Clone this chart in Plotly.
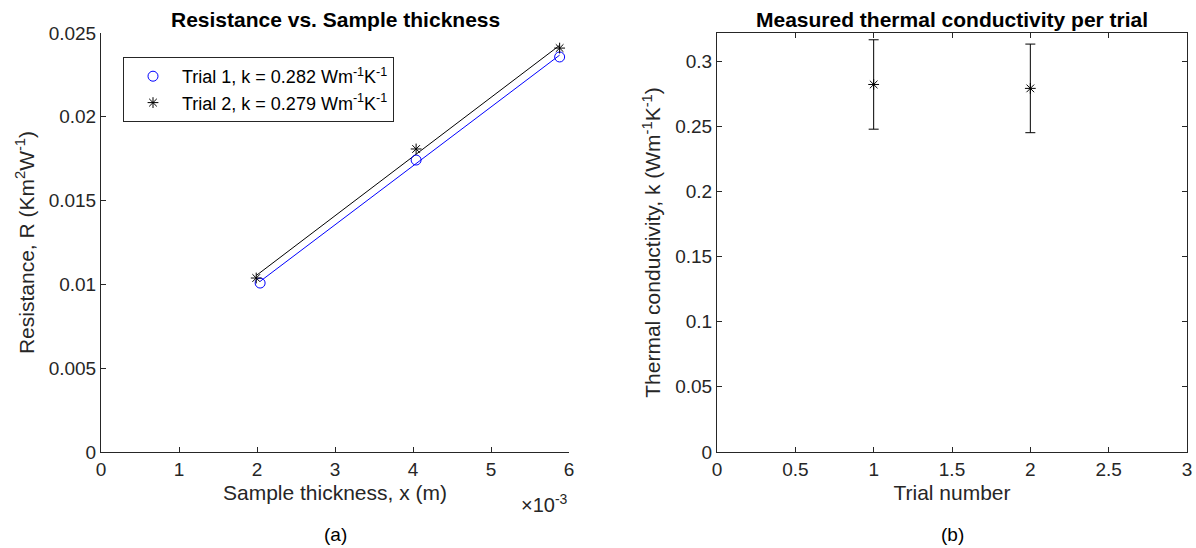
import numpy as np
import plotly.graph_objects as go

# ---------------- data ----------------
thickness_t1 = [2.04e-3, 4.04e-3, 5.88e-3]      # m
resistance_t1 = [0.01008, 0.01742, 0.02357]     # K m^2 W^-1
thickness_t2 = [1.99e-3, 4.04e-3, 5.88e-3]
resistance_t2 = [0.01038, 0.01808, 0.02410]

trials = [1, 2]
k_values = [0.282, 0.279]
k_errors = [0.0343, 0.0340]

legend_t1 = "Trial 1, k = 0.282 Wm<sup>-1</sup>K<sup>-1</sup>"
legend_t2 = "Trial 2, k = 0.279 Wm<sup>-1</sup>K<sup>-1</sup>"

x1_tickvals = [0, 1e-3, 2e-3, 3e-3, 4e-3, 5e-3, 6e-3]
x1_ticktext = ["0", "1", "2", "3", "4", "5", "6"]
y1_tickvals = [0, 0.005, 0.01, 0.015, 0.02, 0.025]
y1_ticktext = ["0", "0.005", "0.01", "0.015", "0.02", "0.025"]
x2_tickvals = [0, 0.5, 1, 1.5, 2, 2.5, 3]
x2_ticktext = ["0", "0.5", "1", "1.5", "2", "2.5", "3"]
y2_tickvals = [0, 0.05, 0.1, 0.15, 0.2, 0.25, 0.3]
y2_ticktext = ["0", "0.05", "0.1", "0.15", "0.2", "0.25", "0.3"]

# linear fits
p1 = np.polyfit(thickness_t1, resistance_t1, 1)
p2 = np.polyfit(thickness_t2, resistance_t2, 1)
fx1 = [min(thickness_t1), max(thickness_t1)]
fx2 = [min(thickness_t2), max(thickness_t2)]

W, H = 1196, 548
FONT = "Liberation Sans"
AX = "#262626"

fig = go.Figure()

fig.add_trace(go.Scatter(x=fx1, y=list(np.polyval(p1, fx1)), mode="lines",
                         line=dict(color="#0000FF", width=1), showlegend=False,
                         hoverinfo="skip", xaxis="x", yaxis="y"))
fig.add_trace(go.Scatter(x=fx2, y=list(np.polyval(p2, fx2)), mode="lines",
                         line=dict(color="black", width=1), showlegend=False,
                         hoverinfo="skip", xaxis="x", yaxis="y"))
fig.add_trace(go.Scatter(x=thickness_t1, y=resistance_t1, mode="markers", name=legend_t1,
                         marker=dict(symbol="circle-open", size=10, color="#0000FF",
                                     line=dict(width=1, color="#0000FF")),
                         xaxis="x", yaxis="y"))
fig.add_trace(go.Scatter(x=thickness_t2, y=resistance_t2, mode="markers", name=legend_t2,
                         marker=dict(symbol="asterisk-open", size=9, color="black",
                                     line=dict(width=1, color="black")),
                         xaxis="x", yaxis="y"))

fig.add_trace(go.Scatter(x=trials, y=k_values, mode="markers", showlegend=False,
                         marker=dict(symbol="asterisk-open", size=9, color="black",
                                     line=dict(width=1, color="black")),
                         error_y=dict(type="data", array=k_errors, visible=True,
                                      color="black", thickness=1, width=5),
                         xaxis="x2", yaxis="y2"))

def px2x(p):
    return p / W

def px2y(p):
    return 1 - p / H

ydom = [px2y(452), px2y(33)]
common_axis = dict(showgrid=False, zeroline=False, showline=True, linecolor=AX,
                   linewidth=1, ticks="inside", ticklen=5, tickcolor=AX,
                   automargin=False,
                   tickfont=dict(family=FONT, size=19, color=AX))
title_font = dict(family=FONT, size=21, color=AX)

fig.update_layout(
    width=W, height=H,
    margin=dict(l=0, r=0, t=0, b=0, pad=0, autoexpand=False),
    paper_bgcolor="white", plot_bgcolor="white",
    font=dict(family=FONT, color=AX),
    xaxis=dict(domain=[px2x(101), px2x(569)], range=[0, 6e-3], anchor="y",
               tickvals=x1_tickvals, ticktext=x1_ticktext,
               title=dict(text="Sample thickness, x (m)", font=title_font, standoff=6),
               **common_axis),
    yaxis=dict(domain=ydom, range=[0, 0.025], anchor="x",
               tickvals=y1_tickvals, ticktext=y1_ticktext,
               title=dict(text="Resistance, R (Km<sup>2</sup>W<sup>-1</sup>)", font=title_font, standoff=8),
               **common_axis),
    xaxis2=dict(domain=[px2x(717), px2x(1187)], range=[0, 3], anchor="y2", mirror="ticks",
                tickvals=x2_tickvals, ticktext=x2_ticktext,
                title=dict(text="Trial number", font=title_font, standoff=6),
                **common_axis),
    yaxis2=dict(domain=ydom, range=[0, 0.3215], anchor="x2", mirror="ticks",
                tickvals=y2_tickvals, ticktext=y2_ticktext,
                title=dict(text="Thermal conductivity, k (Wm<sup>-1</sup>K<sup>-1</sup>)", font=title_font, standoff=8),
                **common_axis),
    legend=dict(x=px2x(123), y=px2y(57), xanchor="left", yanchor="top",
                bgcolor="white", bordercolor=AX, borderwidth=1, itemwidth=48,
                font=dict(family=FONT, size=18, color="black")),
    showlegend=True,
)

annotations = [
    dict(text="<b>Resistance vs. Sample thickness</b>", x=px2x(335), y=px2y(20),
         font=dict(size=21, color="black")),
    dict(text="<b>Measured thermal conductivity per trial</b>", x=px2x(952), y=px2y(20),
         font=dict(size=21, color="black")),
    dict(text="\u00d710<sup>-3</sup>", x=px2x(544), y=px2y(503),
         font=dict(size=20, color=AX)),
    dict(text="(a)", x=px2x(335), y=px2y(534), font=dict(size=19, color="black")),
    dict(text="(b)", x=px2x(952), y=px2y(534), font=dict(size=19, color="black")),
]
for a in annotations:
    a.update(xref="paper", yref="paper", showarrow=False, xanchor="center", yanchor="middle")
    a["font"]["family"] = FONT
fig.update_layout(annotations=annotations)

# remove the default 8px body margin so the 1196x548 figure fills the window exactly
fig.write_html("out.html", config=dict(displayModeBar=False),
               post_script="document.body.style.margin='0px';document.body.style.overflow='hidden';")
